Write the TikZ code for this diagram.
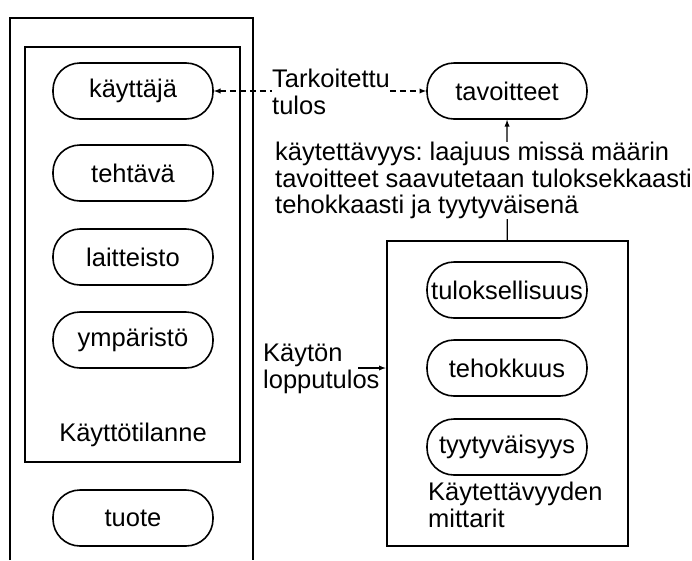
\documentclass[tikz,border=0pt]{standalone}
\usepackage{fontspec}
\setmainfont{Liberation Sans}
\usetikzlibrary{positioning}
\frenchspacing

\begin{document}
\begin{tikzpicture}[x=1pt,y=-1pt]
	\tikzstyle pill_style=[draw,line width=1.6pt,rounded corners=27pt,minimum width=160pt,minimum height=56pt,inner sep=0pt,font=\fontsize{25.5}{27}\selectfont];
	\tikzstyle box_style=[line width=2.5pt];
	\tikzstyle label_style=[align=left,inner sep=0pt,fill=white,font=\fontsize{25.5}{26.5}\selectfont];
	\tikzstyle arrow_style=[->,>=latex,line width=1.3pt];
	\useasboundingbox[fill=white] (0,0) rectangle (692,560);

	% KAYTTOTILANNE (left side)
	\draw[style=box_style] (10,560) -- (10,18) -- (253,18) -- (253,560);
	\draw[style=box_style] (25,47) rectangle (240,462);
	\foreach \name/\y/\txt in {kayttaja/91/käyttäjä, tehtava/173/tehtävä, laitteisto/257/laitteisto, ymparisto/340/ympäristö}
		\node[style=pill_style] (\name) at (133,\y) {\txt};
	\node[label_style,fill=none] (tilanne) at (133,435) {Käyttötilanne};
	\node[style=pill_style] (tuote) at (133,518) {tuote};

	% MITTARIT (right side)
	\node[draw,style=box_style,minimum width=241pt,minimum height=305pt] (mittarit_box) at (507.5,393.5) {};
	\foreach \name/\y/\txt in {tuloksellisuus/290/tuloksellisuus, tehokkuus/368/tehokkuus, tyytyvaisyys/447/tyytyväisyys}
		\node[style=pill_style] (\name) at (507,\y) {\txt};
	\node[label_style,anchor=north west] (mittarit) at (428,482) {Käytettävyyden\\mittarit};

	% TAVOITTEET
	\node[style=pill_style] (tavoitteet) at (507,91) {tavoitteet};

	% ARROWS
	\draw[style=arrow_style,<->,dash pattern=on 6pt off 4pt] (kayttaja) -- (tavoitteet);
	\draw[style=arrow_style] (mittarit_box) -- (tavoitteet);
	\coordinate (lopputulos_end) at (358,368);
	\draw[style=arrow_style] (lopputulos_end) -- (lopputulos_end -| mittarit_box.west);

	% LABELS
	\node[label_style,anchor=north west] (tulos) at (272,69) {Tarkoitettu\\tulos};
	\node[label_style,anchor=north west] (kaytettavyys) at (275,142) {käytettävyys: laajuus missä määrin\\tavoitteet saavutetaan tuloksekkaasti\\tehokkaasti ja tyytyväisenä};
	\node[label_style,fill=none,anchor=north west] (lopputulos) at (263,344) {Käytön\\lopputulos};
\end{tikzpicture}
\end{document}
